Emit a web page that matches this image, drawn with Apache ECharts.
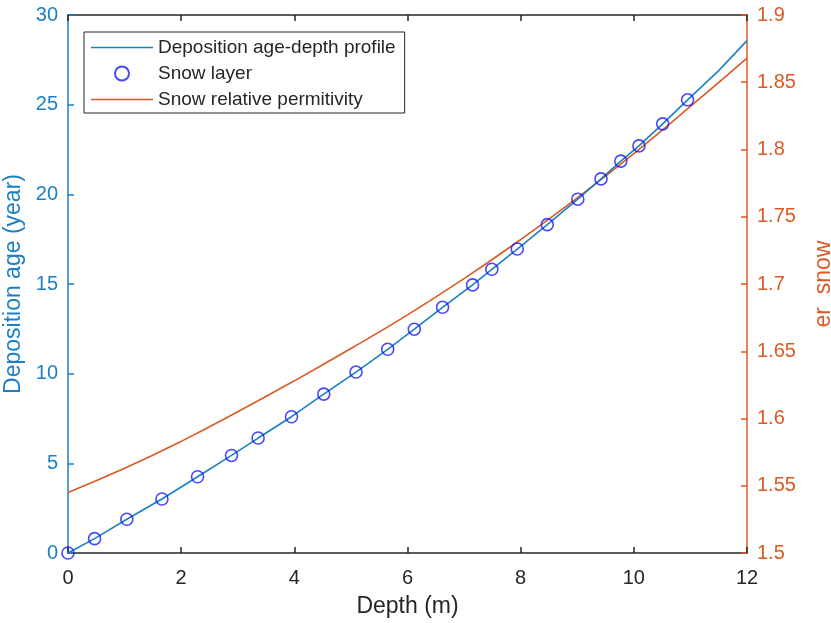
<!DOCTYPE html>
<html>
<head>
<meta charset="utf-8">
<script src="https://cdn.jsdelivr.net/npm/echarts@6/dist/echarts.min.js"></script>
<style>
html,body{margin:0;padding:0;background:#fff;}
#c{width:831px;height:623px;}
</style>
</head>
<body>
<div id="c"></div>
<script>
// Snow layer markers (depth m, age year)
const layerDepth = [0, 0.47, 1.04, 1.66, 2.29, 2.89, 3.36, 3.95, 4.52, 5.09, 5.65, 6.12, 6.62, 7.15, 7.49, 7.94, 8.47, 9.01, 9.42, 9.77, 10.09, 10.51, 10.95];
const layerAge   = [0, 0.80, 1.88, 3.01, 4.25, 5.44, 6.41, 7.60, 8.86, 10.09, 11.36, 12.48, 13.70, 14.95, 15.82, 16.95, 18.31, 19.73, 20.86, 21.85, 22.70, 23.93, 25.27];
// Deposition age-depth profile
const profileDepth = [0, 0.47, 1.04, 1.66, 2.29, 2.89, 3.36, 3.95, 4.52, 5.09, 5.65, 6.12, 6.62, 7.15, 7.49, 7.94, 8.47, 9.01, 9.42, 9.77, 10.09, 10.51, 10.95, 11.5, 12];
const profileAge   = [0, 0.80, 1.88, 3.01, 4.25, 5.44, 6.41, 7.60, 8.86, 10.09, 11.36, 12.48, 13.70, 14.95, 15.82, 16.95, 18.31, 19.73, 20.86, 21.85, 22.70, 23.93, 25.27, 26.9, 28.57];
// Snow relative permittivity
const permDepth  = [0, 1, 2, 3, 4, 5, 6, 7, 8, 9, 10, 11, 12];
const permValue  = [1.545, 1.563, 1.583, 1.605, 1.628, 1.652, 1.677, 1.704, 1.733, 1.764, 1.797, 1.832, 1.868];
// Axis ticks
const xMin = 0, xMax = 12, xStep = 2;
const yLeftMin = 0, yLeftMax = 30, yLeftStep = 5;
const yRightMin = 1.5, yRightMax = 1.9, yRightStep = 0.05;

const BLUE = '#1a7fc4';
const ORANGE = '#dc5a22';
const DARK = '#262626';
const FONT = '"Liberation Sans", Arial, Helvetica, sans-serif';

const zip = (a, b) => a.map((v, i) => [v, b[i]]);

const chart = echarts.init(document.getElementById('c'), null, {renderer: 'canvas'});
chart.setOption({
  animation: false,
  backgroundColor: '#fff',
  textStyle: {fontFamily: FONT},
  grid: {left: 68, right: 84, top: 15, bottom: 70, containLabel: false, outerBoundsMode: 'none'},
  legend: {
    orient: 'vertical', left: 84, top: 32,
    itemWidth: 62, itemHeight: 14, itemGap: 7,
    padding: [6, 9, 4, 7],
    borderColor: DARK, borderWidth: 1, backgroundColor: '#fff',
    textStyle: {fontFamily: FONT, fontSize: 19, color: DARK},
    data: [
      {name: 'Deposition age-depth profile', icon: 'path://M0,0 L62,0 L62,1.5 L0,1.5 Z'},
      {name: 'Snow layer'},
      {name: 'Snow relative permitivity', icon: 'path://M0,0 L62,0 L62,1.5 L0,1.5 Z'}
    ]
  },
  xAxis: [{
    type: 'value', position: 'bottom', min: xMin, max: xMax, interval: xStep,
    name: 'Depth (m)', nameLocation: 'middle', nameGap: 42,
    nameTextStyle: {fontSize: 23, color: DARK, fontFamily: FONT},
    axisLine: {show: true, onZero: false, lineStyle: {color: DARK, width: 1.5}},
    axisTick: {show: true, inside: true, length: 6, lineStyle: {color: DARK, width: 1.5}},
    axisLabel: {fontSize: 20, color: DARK, margin: 15, fontFamily: FONT},
    splitLine: {show: false}
  }, {
    type: 'value', position: 'top', min: xMin, max: xMax, interval: xStep,
    axisLine: {show: true, onZero: false, lineStyle: {color: DARK, width: 1.5}},
    axisTick: {show: true, inside: true, length: 6, lineStyle: {color: DARK, width: 1.5}},
    axisLabel: {show: false},
    splitLine: {show: false}
  }],
  yAxis: [{
    type: 'value', position: 'left', min: yLeftMin, max: yLeftMax, interval: yLeftStep,
    name: 'Deposition age (year)', nameLocation: 'middle', nameGap: 33, nameRotate: 90,
    nameTextStyle: {fontSize: 23, color: BLUE, fontFamily: FONT},
    axisLine: {show: true, onZero: false, lineStyle: {color: BLUE, width: 1.5}},
    axisTick: {show: true, inside: true, length: 6, lineStyle: {color: BLUE, width: 1.5}},
    axisLabel: {fontSize: 20, color: BLUE, margin: 10, fontFamily: FONT},
    splitLine: {show: false}
  }, {
    type: 'value', position: 'right', min: yRightMin, max: yRightMax, interval: yRightStep,
    name: 'er  snow', nameLocation: 'middle', nameGap: 65, nameRotate: 90,
    nameTextStyle: {fontSize: 23, color: ORANGE, fontFamily: FONT},
    axisLine: {show: true, onZero: false, lineStyle: {color: ORANGE, width: 1.5}},
    axisTick: {show: true, inside: true, length: 6, lineStyle: {color: ORANGE, width: 1.5}},
    axisLabel: {fontSize: 20, color: ORANGE, margin: 10, fontFamily: FONT,
      formatter: v => String(Math.round(v * 100) / 100)},
    splitLine: {show: false}
  }],
  series: [{
    name: 'Deposition age-depth profile', type: 'line',
    xAxisIndex: 0, yAxisIndex: 0,
    data: zip(profileDepth, profileAge),
    symbol: 'none', smooth: false,
    color: BLUE, lineStyle: {color: BLUE, width: 1.6}, z: 3
  }, {
    name: 'Snow layer', type: 'scatter',
    xAxisIndex: 0, yAxisIndex: 0,
    data: zip(layerDepth, layerAge),
    symbol: 'circle', symbolSize: 12,
    itemStyle: {color: 'rgba(255,255,255,0)', borderColor: '#1a1aff', borderWidth: 1.6},
    z: 4
  }, {
    name: 'Snow relative permitivity', type: 'line',
    xAxisIndex: 0, yAxisIndex: 1,
    data: zip(permDepth, permValue),
    symbol: 'none', smooth: 0.5,
    color: ORANGE, lineStyle: {color: ORANGE, width: 1.6}, z: 2
  }]
});
</script>
</body>
</html>
